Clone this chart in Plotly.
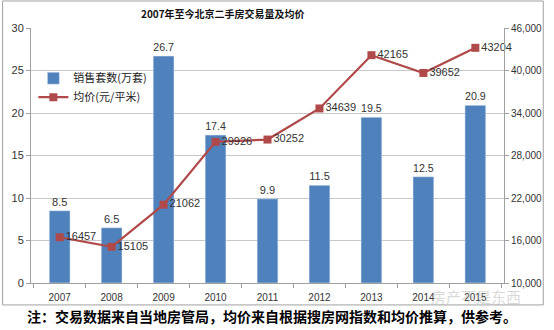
import plotly.graph_objects as go

years = ["2007", "2008", "2009", "2010", "2011", "2012", "2013", "2014", "2015"]
sales = [8.5, 6.5, 26.7, 17.4, 9.9, 11.5, 19.5, 12.5, 20.9]
prices = [16457, 15105, 21062, 29926, 30252, 34639, 42165, 39652, 43204]
left_ticks = [0, 5, 10, 15, 20, 25, 30]
right_ticks = [10000, 16000, 22000, 28000, 34000, 40000, 46000]

title_text = "2007年至今北京二手房交易量及均价"
note_text = "注：交易数据来自当地房管局，均价来自根据搜房网指数和均价推算，供参考。"
watermark_text = "房产不是东西"
bar_name = "销售套数(万套)"
line_name = "均价(元/平米)"

FONT = "Noto Sans CJK SC"
BAR_COLOR = "#4F81BD"
LINE_COLOR = "#B04A4A"

fig = go.Figure()
fig.add_trace(go.Bar(
    x=years, y=sales, name=bar_name, marker_color=BAR_COLOR,
    text=[f"{v}" for v in sales], textposition="outside",
    textfont=dict(size=11, color="#333333", family="Liberation Sans"),
    cliponaxis=False, yaxis="y",
))
fig.add_trace(go.Scatter(
    x=years, y=prices, name=line_name, mode="lines+markers+text",
    line=dict(color=LINE_COLOR, width=2.2),
    marker=dict(symbol="square", size=8, color=LINE_COLOR),
    text=[str(v) for v in prices], textposition="middle right",
    textfont=dict(size=11, color="#333333", family="Liberation Sans"),
    cliponaxis=False, yaxis="y2",
))

fig.update_layout(
    width=554, height=330,
    margin=dict(l=30, r=42, t=28, b=47),
    paper_bgcolor="white", plot_bgcolor="white",
    bargap=0.6,
    showlegend=True,
    legend=dict(x=0.005, y=0.86, xanchor="left", yanchor="top",
                bgcolor="rgba(0,0,0,0)", font=dict(size=11, family=FONT, color="#222222"),
                tracegroupgap=0, itemwidth=30),
    xaxis=dict(type="category", showline=True, linecolor="#a0a0a0", linewidth=1,
               ticks="outside", tickson="boundaries", ticklen=4, tickcolor="#a0a0a0",
               ticklabelstandoff=5,
               tickfont=dict(size=10, family="Liberation Sans", color="#333333"),
               showgrid=False),
    yaxis=dict(range=[0, 30], tickvals=left_ticks, showline=True, linecolor="#a0a0a0",
               ticks="outside", ticklen=4, tickcolor="#a0a0a0",
               gridcolor="#c8c8c8", gridwidth=1, zeroline=False,
               tickfont=dict(size=11, family="Liberation Sans", color="#333333")),
    yaxis2=dict(range=[10000, 46000], tickvals=right_ticks, tickformat=",d",
                overlaying="y", side="right", showline=True, linecolor="#a0a0a0",
                ticks="outside", ticklen=4, tickcolor="#a0a0a0",
                showgrid=False, zeroline=False,
                tickfont=dict(size=10, family="Liberation Sans", color="#333333")),
)

fig.add_shape(type="rect", xref="paper", yref="paper",
              x0=-0.060, x1=1.083, y0=-0.086, y1=1.106,
              line=dict(color="#a0a0a0", width=1), fillcolor="rgba(0,0,0,0)", layer="below")

fig.add_annotation(text=f"<b>{title_text}</b>", xref="paper", yref="paper",
                   x=0.405, y=1.055, xanchor="center", yanchor="middle", showarrow=False,
                   font=dict(size=10, family=FONT, color="#111111"))
fig.add_annotation(text=f"<b>{note_text}</b>", xref="paper", yref="paper",
                   x=-0.012, y=-0.13, xanchor="left", yanchor="middle", showarrow=False,
                   font=dict(size=14, family=FONT, color="#000000"))
fig.add_annotation(text=watermark_text, xref="paper", yref="paper",
                   x=0.94, y=-0.052, xanchor="center", yanchor="middle", showarrow=False,
                   font=dict(size=15, family=FONT, color="rgba(180,180,180,0.5)"))

fig.write_html("out.html")
